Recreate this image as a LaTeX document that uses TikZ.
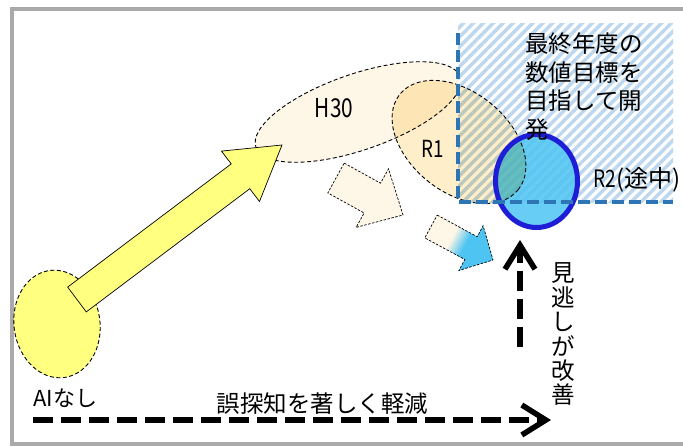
\documentclass[tikz,border=0pt]{standalone}
\usepackage{fontspec}
\setmainfont{Noto Sans CJK JP}
\usepackage{graphicx}
\usetikzlibrary{shapes.geometric,arrows.meta,patterns.meta}
\definecolor{framegray}{RGB}{170,170,170}
\definecolor{yellowc}{RGB}{255,255,128}
\definecolor{creamc}{RGB}{254,246,230}
\definecolor{r1c}{RGB}{254,238,202}
\definecolor{skyb}{RGB}{77,196,242}
\definecolor{r2edge}{RGB}{30,30,215}
\definecolor{hatchc}{RGB}{189,215,238}
\definecolor{dashblue}{RGB}{46,117,182}
\pgfdeclarehorizontalshading{gradarrow}{100bp}{color(0bp)=(creamc); color(43bp)=(creamc); color(55bp)=(skyb); color(100bp)=(skyb)}
\newcommand{\cond}[1]{\scalebox{0.8}[1]{#1}}
\begin{document}
\begin{tikzpicture}[x=1pt,y=-1pt,
  thindash/.style={draw=black, line width=0.9pt, dash pattern=on 4pt off 2.5pt},
  finedash/.style={draw=black, line width=0.7pt, dash pattern=on 2.5pt off 1.5pt},
  blob/.style={ellipse, inner sep=0pt, outer sep=0pt},
  bigarrow/.style={line width=5.5pt, dash pattern=on 20pt off 8pt, -{Straight Barb[length=24pt,width=30pt]}},
  lbl/.style={inner sep=0pt, font=\fontsize{23.5pt}{28pt}\selectfont},
]
\useasboundingbox (0,0) rectangle (683,447);
\draw[framegray, line width=3.5pt] (12,9) rectangle (720,444);

\node[blob, fill=yellowc, thindash, minimum width=86pt, minimum height=108pt, rotate=8] (noai) at (57,324) {};
\node[blob, fill=creamc, thindash, minimum width=216pt, minimum height=76pt, rotate=19] (h30) at (358,112) {};

\coordinate (hatchA) at (458,23);
\coordinate (hatchB) at (673,202);
\fill[white] (hatchA) rectangle (hatchB);
\fill[pattern={Lines[angle=45,distance=7pt,line width=3.5pt]}, pattern color=hatchc] (hatchA) rectangle (hatchB);

\node[blob, fill=skyb, fill opacity=0.85, minimum width=82pt, minimum height=93pt] (r2) at (536.5,181) {};
\begin{scope}[blend mode=multiply]
\node[blob, fill=r1c, thindash, minimum width=152pt, minimum height=100pt, rotate=-39] (r1) at (459,142) {};
\end{scope}
\draw[r2edge, line width=5pt] (r2.center) ellipse [x radius=41, y radius=46.5];

\coordinate (vtop) at (458,33);
\coordinate (corner) at (458,202);
\coordinate (hright) at (673,202);
\draw[dashblue, line width=4pt, dash pattern=on 12pt off 5pt] (vtop) -- (corner) -- (hright);

% block arrows
\draw[fill=yellowc, line width=0.7pt] (67.7,287.1) -- (231.2,163.9) -- (221.5,151.1) -- (282,145) -- (259.5,201.5) -- (249.8,188.7) -- (86.3,311.9) -- cycle;
\draw[fill=creamc, finedash] (344.2,163.1) -- (380.5,183.2) -- (388.5,168.8) -- (403,215) -- (356.1,227.4) -- (364.1,213) -- (327.8,192.9) -- cycle;
\shadedraw[shading=gradarrow, shading angle=-28, finedash] (437.2,215.1) -- (477.2,236.7) -- (483.1,225.7) -- (493,260) -- (458.9,270.5) -- (464.8,259.5) -- (424.8,237.9) -- cycle;

% dashed black arrows
\coordinate (hs) at (33,420);
\coordinate (he) at (551,420);
\draw[bigarrow] (hs) -- (he);
\coordinate (vs) at (520,347);
\coordinate (ve) at (520,240);
\draw[bigarrow] (vs) -- (ve);

% texts
\node[lbl, anchor=west] (t1) at (525,44) {最終年度の};
\node[lbl, anchor=west] (t2) at (525,72.5) {数値目標を};
\node[lbl, anchor=west] (t3) at (525,101) {目指して開};
\node[lbl, anchor=west] (t4) at (525,129.5) {発};
\node[lbl, anchor=west, font=\fontsize{24pt}{28pt}\selectfont] (r2lbl) at (593,180) {\cond{R2}(途中)};
\node[lbl, font=\fontsize{26pt}{30pt}\selectfont] (h30lbl) at (334,108) {\cond{H30}};
\node[lbl] (r1lbl) at (432.5,148.5) {\cond{R1}};
\node[lbl, anchor=west, font=\fontsize{22pt}{26pt}\selectfont] (ailbl) at (33,398) {AIなし};
\node[lbl] (fp) at (322.5,404) {誤探知を著しく軽減};
\foreach \ch [count=\i] in {見,逃,し,が,改,善}
  \node[lbl] (v\i) at (563,{273+24.4*(\i-1)}) {\ch};
\end{tikzpicture}
\end{document}
